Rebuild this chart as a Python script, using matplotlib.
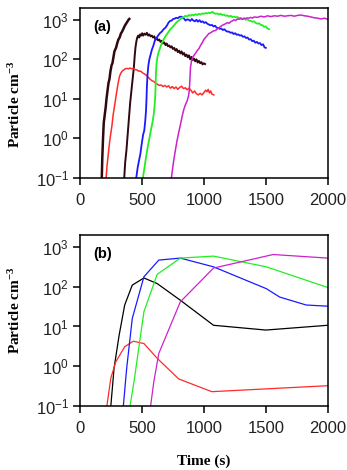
import numpy as np
import matplotlib
matplotlib.use('Agg')
import matplotlib.pyplot as plt
from matplotlib.ticker import LogLocator, NullLocator

plt.rcParams['font.family'] = ['Liberation Sans', 'DejaVu Sans']
plt.rcParams['mathtext.default'] = 'regular'

# ── PANEL (a) : measured counts, log10(particle cm^-3) vs time (s) ──
a_dark1_t = [176, 180, 186, 192, 200, 208, 214, 222, 230, 238, 246, 255, 262, 270,
             278, 285, 292, 300, 310, 320, 330, 340, 352, 362, 372, 382, 392, 398]
a_dark1_log = [-1, -0.5, 0, 0.4, 0.6, 0.8, 1.0, 1.2, 1.4, 1.5, 1.7, 1.85, 1.9, 2.05,
               2.2, 2.25, 2.3, 2.4, 2.5, 2.55, 2.65, 2.7, 2.78, 2.85, 2.9, 2.95, 3.0, 3.02]

a_dark2_t = [357, 365, 375, 385, 395, 405, 415, 425, 435, 442, 448, 455, 462, 470,
             478, 486, 494, 502, 510, 520, 530, 540, 550, 560, 570, 580, 590, 600,
             610, 620, 630, 640, 650, 660, 670, 680, 690, 700, 710, 720, 730, 740,
             750, 760, 770, 780, 790, 800, 810, 820, 830, 840, 850, 860, 870, 880,
             890, 900, 910, 920, 930, 940, 950, 960, 970, 980, 990, 1000, 1010]
a_dark2_log = [-1, -0.6, -0.3, 0.1, 0.5, 0.9, 1.2, 1.5, 1.8, 2.1, 2.3, 2.45, 2.55, 2.6,
               2.55, 2.63, 2.6, 2.66, 2.6, 2.65, 2.62, 2.67, 2.6, 2.63, 2.58, 2.6, 2.55, 2.58,
               2.5, 2.53, 2.48, 2.5, 2.44, 2.47, 2.4, 2.43, 2.36, 2.4, 2.33, 2.35, 2.3, 2.33,
               2.26, 2.29, 2.22, 2.26, 2.18, 2.22, 2.15, 2.2, 2.12, 2.16, 2.08, 2.12, 2.05, 2.1,
               2.0, 2.06, 1.98, 2.02, 1.95, 2.0, 1.92, 1.96, 1.9, 1.93, 1.87, 1.9, 1.88]

a_red_t = [211, 218, 225, 235, 245, 257, 268, 278, 290, 300, 311, 320, 330, 340, 352,
           365, 378, 392, 405, 418, 432, 445, 460, 475, 490, 505, 520, 535, 550, 565,
           580, 595, 610, 625, 640, 655, 670, 685, 700, 715, 730, 745, 760, 775, 790,
           805, 820, 835, 850, 865, 880, 895, 910, 925, 940, 955, 970, 985, 1000, 1015,
           1025, 1035, 1045, 1055, 1065, 1080]
a_red_log = [-1, -0.7, -0.5, -0.2, 0.05, 0.3, 0.6, 0.8, 1.05, 1.25, 1.45, 1.58, 1.65, 1.7, 1.73,
             1.76, 1.77, 1.76, 1.78, 1.76, 1.77, 1.74, 1.73, 1.7, 1.7, 1.66, 1.63, 1.6, 1.55, 1.5,
             1.46, 1.44, 1.4, 1.37, 1.34, 1.35, 1.31, 1.34, 1.3, 1.33, 1.27, 1.31, 1.26, 1.3, 1.24,
             1.29, 1.32, 1.26, 1.28, 1.23, 1.27, 1.22, 1.15, 1.2, 1.13, 1.1, 1.14, 1.1, 1.16, 1.22,
             1.18, 1.24, 1.15, 1.2, 1.12, 1.1]

a_blue_t = [454, 465, 477, 487, 500, 510, 519, 527, 533, 537, 540, 545, 552, 560, 570,
            581, 593, 605, 617, 630, 645, 660, 675, 690, 703, 715, 728, 740, 752, 765,
            778, 790, 802, 815, 828, 840, 852, 865, 878, 890, 903, 915, 928, 940, 952,
            965, 978, 990, 1003, 1015, 1028, 1040, 1053, 1065, 1078, 1090, 1103, 1115, 1128, 1140,
            1153, 1165, 1178, 1190, 1203, 1215, 1228, 1240, 1253, 1265, 1278, 1290, 1303, 1315, 1328,
            1340, 1353, 1365, 1378, 1390, 1403, 1415, 1428, 1440, 1453, 1465, 1478, 1490, 1500]
a_blue_log = [-1, -0.75, -0.55, -0.4, -0.1, 0.1, 0.2, 0.45, 0.7, 1.0, 1.3, 1.6, 1.85, 2.0, 2.12,
              2.25, 2.35, 2.48, 2.53, 2.6, 2.66, 2.7, 2.76, 2.8, 2.86, 2.93, 2.97, 2.98, 3.02, 3.03,
              3.05, 3.04, 3.07, 3.08, 3.06, 3.03, 2.98, 3.01, 3.0, 2.97, 3.02, 2.98, 2.96, 3.0, 2.95,
              2.99, 2.94, 2.96, 2.92, 2.94, 2.9, 2.88, 2.86, 2.87, 2.83, 2.85, 2.8, 2.79, 2.77, 2.78,
              2.74, 2.76, 2.72, 2.7, 2.7, 2.67, 2.68, 2.64, 2.66, 2.62, 2.63, 2.6, 2.61, 2.57, 2.58,
              2.54, 2.55, 2.5, 2.51, 2.46, 2.47, 2.42, 2.44, 2.4, 2.41, 2.36, 2.38, 2.3, 2.29]

a_green_t = [508, 520, 532, 545, 560, 572, 585, 595, 603, 608, 611, 614, 618, 625, 635,
             648, 662, 675, 690, 703, 716, 730, 743, 757, 770, 784, 797, 811, 824, 838,
             851, 865, 878, 892, 905, 919, 932, 946, 959, 973, 986, 1000, 1013, 1027, 1040,
             1054, 1068, 1081, 1095, 1108, 1122, 1135, 1149, 1162, 1176, 1189, 1203, 1216, 1230, 1243,
             1257, 1270, 1284, 1297, 1311, 1324, 1338, 1351, 1365, 1378, 1392, 1405, 1419, 1432, 1446,
             1460, 1473, 1487, 1500, 1514, 1527]
a_green_log = [-1, -0.75, -0.5, -0.25, 0.0, 0.2, 0.4, 0.6, 0.85, 1.1, 1.4, 1.7, 1.9, 2.05, 2.18,
               2.3, 2.42, 2.5, 2.58, 2.64, 2.7, 2.76, 2.8, 2.85, 2.9, 2.95, 2.98, 3.02, 3.05, 3.07,
               3.1, 3.08, 3.12, 3.1, 3.13, 3.11, 3.14, 3.12, 3.15, 3.13, 3.16, 3.15, 3.17, 3.16, 3.18,
               3.17, 3.2, 3.17, 3.15, 3.16, 3.13, 3.15, 3.12, 3.13, 3.1, 3.11, 3.08, 3.1, 3.07, 3.08,
               3.06, 3.07, 3.04, 3.05, 3.02, 3.03, 3.0, 3.01, 2.98, 2.97, 2.95, 2.96, 2.92, 2.9, 2.91,
               2.87, 2.86, 2.82, 2.83, 2.78, 2.76]

a_mag_t = [738, 748, 757, 770, 784, 797, 811, 824, 838, 851, 865, 876, 882, 886, 889,
           892, 900, 910, 920, 932, 946, 960, 973, 987, 1000, 1013, 1027, 1040, 1054, 1068,
           1081, 1095, 1108, 1122, 1135, 1149, 1162, 1176, 1189, 1203, 1216, 1230, 1243, 1257, 1270,
           1284, 1297, 1311, 1324, 1338, 1351, 1365, 1378, 1392, 1405, 1432, 1460, 1487, 1514, 1541,
           1568, 1595, 1622, 1649, 1676, 1703, 1730, 1757, 1784, 1811, 1838, 1865, 1892, 1919, 1946,
           1973, 2000]
a_mag_log = [-1, -0.75, -0.55, -0.3, -0.05, 0.15, 0.35, 0.55, 0.73, 0.85, 0.95, 1.07, 1.2, 1.4, 1.6,
             1.8, 1.95, 2.05, 2.1, 2.15, 2.22, 2.27, 2.35, 2.42, 2.5, 2.55, 2.6, 2.65, 2.67, 2.7,
             2.72, 2.73, 2.77, 2.8, 2.83, 2.86, 2.88, 2.9, 2.93, 2.91, 2.95, 2.97, 3.0, 2.98, 3.02,
             3.01, 3.03, 3.01, 3.04, 3.03, 3.05, 3.04, 3.06, 3.04, 3.07, 3.06, 3.09, 3.07, 3.1, 3.08,
             3.1, 3.09, 3.11, 3.09, 3.1, 3.11, 3.09, 3.11, 3.12, 3.1, 3.09, 3.07, 3.05, 3.04, 3.02,
             3.04, 3.01]

# ── PANEL (b) : model, log10(particle cm^-3) vs time (s) ──
b_black_t = [249, 275, 316, 361, 422, 516, 623, 810, 1078, 1500, 2000]
b_black_log = [-1, -0.05, 0.78, 1.54, 2.04, 2.22, 2.08, 1.66, 1.03, 0.91, 1.03]

b_red_t = [217, 249, 289, 361, 430, 516, 623, 797, 1064, 1500, 2000]
b_red_log = [-1, -0.3, 0.11, 0.49, 0.63, 0.57, 0.2, -0.32, -0.64, -0.57, -0.49]

b_blue_t = [350, 377, 422, 516, 636, 810, 1078, 1505, 1612, 1826, 2000]
b_blue_log = [-1, -0.05, 1.2, 2.25, 2.67, 2.72, 2.5, 1.95, 1.74, 1.54, 1.51]

b_green_t = [404, 436, 516, 623, 810, 1078, 1505, 2000]
b_green_log = [-1, -0.39, 1.37, 2.31, 2.72, 2.77, 2.5, 1.98]

b_mag_t = [570, 596, 636, 810, 1078, 1292, 1559, 2000]
b_mag_log = [-1, -0.39, 0.32, 1.62, 2.47, 2.62, 2.81, 2.72]

DARK = '#30080f'
RED = '#ff2a2a'
BLUE = '#1a1aff'
GREEN = '#22ee22'
MAG = '#cc22cc'

series_a = [
    (a_dark1_t, a_dark1_log, DARK, 1.8),
    (a_dark2_t, a_dark2_log, DARK, 1.4),
    (a_red_t, a_red_log, RED, 1.1),
    (a_blue_t, a_blue_log, BLUE, 1.3),
    (a_green_t, a_green_log, GREEN, 1.3),
    (a_mag_t, a_mag_log, MAG, 1.1),
]
series_b = [
    (b_black_t, b_black_log, 'black', 0.9),
    (b_red_t, b_red_log, RED, 0.9),
    (b_blue_t, b_blue_log, BLUE, 0.9),
    (b_green_t, b_green_log, GREEN, 0.9),
    (b_mag_t, b_mag_log, MAG, 0.9),
]

fig = plt.figure(figsize=(3.47, 4.70), dpi=100)
ax_a = fig.add_axes([0.2305, 0.6213, 0.714, 0.362])
ax_b = fig.add_axes([0.2305, 0.1362, 0.714, 0.3638])

for ax, series, tag in [(ax_a, series_a, '(a)'), (ax_b, series_b, '(b)')]:
    for t, lg, c, lw in series:
        ax.plot(t, 10 ** np.array(lg), color=c, lw=lw)
    ax.set_yscale('log')
    ax.set_xlim(0, 2000)
    ax.set_ylim(0.1, 2000)
    ax.set_xticks([0, 500, 1000, 1500, 2000])
    ax.yaxis.set_major_locator(LogLocator(base=10, numticks=10))
    ax.yaxis.set_minor_locator(NullLocator())
    ax.tick_params(axis='both', direction='out', length=5, width=1.1,
                   labelsize=12, pad=3, top=False, right=False,
                   labelcolor='#222222')
    ax.tick_params(axis='x', pad=6)
    for sp in ax.spines.values():
        sp.set_linewidth(1.1)
    ax.text(0.053, 0.89, tag, transform=ax.transAxes, fontsize=10.5,
            fontweight='bold', va='center', ha='left')
    ax.set_ylabel('Particle cm$^{-3}$', family='Liberation Serif',
                  fontweight='bold', fontsize=11)
    ax.yaxis.set_label_coords(-0.23, 0.43 if tag == '(a)' else 0.56)

ax_b.set_xlabel('Time (s)', family='Liberation Serif', fontweight='bold',
                fontsize=11, labelpad=13)

fig.savefig('out.png', dpi=100)
